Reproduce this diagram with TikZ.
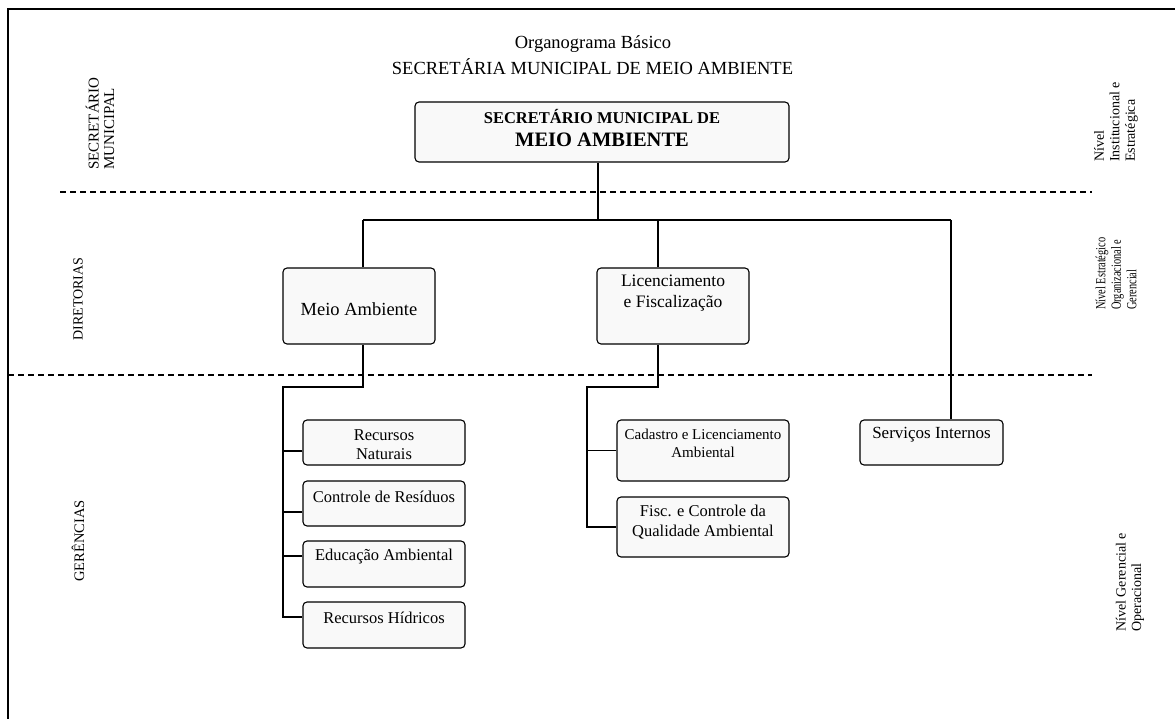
\documentclass[tikz,border=0pt]{standalone}
\usepackage{fontspec}
\setmainfont{Liberation Serif}
\usetikzlibrary{calc}
\begin{document}
\begin{tikzpicture}[x=1pt,y=-1pt,
  orgbox/.style={draw, line width=1.1pt, rounded corners=4pt, fill=black!2.5, inner sep=0pt, align=center},
  conn/.style={line width=1.1pt},
  sepline/.style={line width=1.1pt, dash pattern=on 6pt off 4pt},
  txt/.style={inner sep=0pt, align=center},
  sidelbl/.style={inner sep=0pt, rotate=90, anchor=west, align=left, font=\fontsize{14}{15.5}\selectfont}]
\useasboundingbox (0,0) rectangle (1175,719);
% frame
\draw[line width=1.8pt] (8,719) -- (8,9) -- (1175,9);
% title
\node[txt, font=\fontsize{18.5}{20}\selectfont] (t1) at (593,44) {Organograma Básico};
\node[txt, font=\fontsize{18.5}{20}\selectfont] (t2) at (592.5,67) {SECRETÁRIA MUNICIPAL DE MEIO AMBIENTE};
% separators
\draw[sepline] (60,192) -- (1092,192);
\draw[sepline] (8,375) -- (1092,375);
% boxes
\node[orgbox, minimum width=374pt, minimum height=60pt] (top) at (602,132) {};
\node[txt, font=\fontsize{16.5}{20}\bfseries\selectfont] (topa) at (602,117) {SECRETÁRIO MUNICIPAL DE};
\node[txt, font=\fontsize{20.5}{22}\bfseries\selectfont] (topb) at (602,140) {MEIO AMBIENTE};
\node[orgbox, minimum width=152pt, minimum height=76pt] (ma) at (359,306) {};
\node[txt, font=\fontsize{18.5}{22}\selectfont] (mat) at (359,309) {Meio Ambiente};
\node[orgbox, minimum width=152pt, minimum height=76pt] (lf) at (673,306) {};
\node[txt, font=\fontsize{17.5}{21.5}\selectfont] (lft) at (673,293) {Licenciamento\\e Fiscalização};
\node[orgbox, minimum width=143pt, minimum height=45pt] (si) at (931.5,442.5) {};
\node[txt, font=\fontsize{17}{20}\selectfont] (sit) at (931.5,435) {Serviços Internos};
\node[orgbox, minimum width=162pt, minimum height=45pt] (rn) at (384,442.5) {};
\node[txt, font=\fontsize{16.5}{19.5}\selectfont] (rnt) at (384,444.5) {Recursos\\Naturais};
\node[orgbox, minimum width=162pt, minimum height=45pt] (cr) at (384,503.5) {};
\node[txt, font=\fontsize{16.5}{19.5}\selectfont] (crt) at (384,497) {Controle de Resíduos};
\node[orgbox, minimum width=162pt, minimum height=46pt] (ea) at (384,564) {};
\node[txt, font=\fontsize{16.5}{19.5}\selectfont] (eat) at (384,557) {Educação Ambiental};
\node[orgbox, minimum width=162pt, minimum height=46pt] (rh) at (384,625) {};
\node[txt, font=\fontsize{16.5}{19.5}\selectfont] (rht) at (384,618) {Recursos Hídricos};
\node[orgbox, minimum width=172pt, minimum height=61pt] (cl) at (703,450.5) {};
\node[txt, font=\fontsize{15}{17.5}\selectfont] (clt) at (703,443.5) {Cadastro e Licenciamento\\Ambiental};
\node[orgbox, minimum width=172pt, minimum height=60pt] (fq) at (703,527) {};
\node[txt, font=\fontsize{16.5}{20}\selectfont] (fqt) at (703,522) {Fisc. e Controle da\\Qualidade Ambiental};
% connectors
\coordinate (j0) at (598,220);
\coordinate (bL) at (363,220);
\coordinate (bM) at (658,220);
\coordinate (bR) at (951,220);
\draw[conn] (top.south -| j0) -- (j0);
\draw[conn] (bL) -- (bR);
\draw[conn] (bL) -- (ma.north -| bL);
\draw[conn] (bM) -- (lf.north -| bM);
\draw[conn] (bR) -- (si.north -| bR);
\coordinate (ta) at (283,387);
\coordinate (tb) at (587,387);
\draw[conn] (ma.south -| bL) |- (ta) -- (283,617) -- ($(rh.west)+(0,-8)$);
\draw[conn] ($(rn.west)+(0,8.5)$) -- ++(-20,0);
\draw[conn] ($(cr.west)+(0,8.5)$) -- ++(-20,0);
\draw[conn] ($(ea.west)+(0,-8)$) -- ++(-20,0);
\draw[conn] (lf.south -| bM) |- (tb) |- (fq.west);
\draw[conn] (cl.west) -- ++(-30,0);
% side labels
\node[sidelbl, font=\fontsize{15}{15.5}\selectfont] (l1) at (100,170) {SECRETÁRIO\\MUNICIPAL};
\node[sidelbl, anchor=center] (l2) at (78,299) {DIRETORIAS};
\node[sidelbl, anchor=center, font=\fontsize{14.5}{15.5}\selectfont] (l3) at (78,541) {GERÊNCIAS};
\node[sidelbl] (r1) at (1116,162) {Nível\\Institucional e\\Estratégica};
\node[sidelbl] (r2) at (1116,310) {\scalebox{0.74}[1]{Nível Estratégico}\\\scalebox{0.74}[1]{Organizacional e}\\\scalebox{0.74}[1]{Gerencial}};
\node[sidelbl] (r3) at (1130,632) {Nível Gerencial e\\Operacional};
\end{tikzpicture}
\end{document}
